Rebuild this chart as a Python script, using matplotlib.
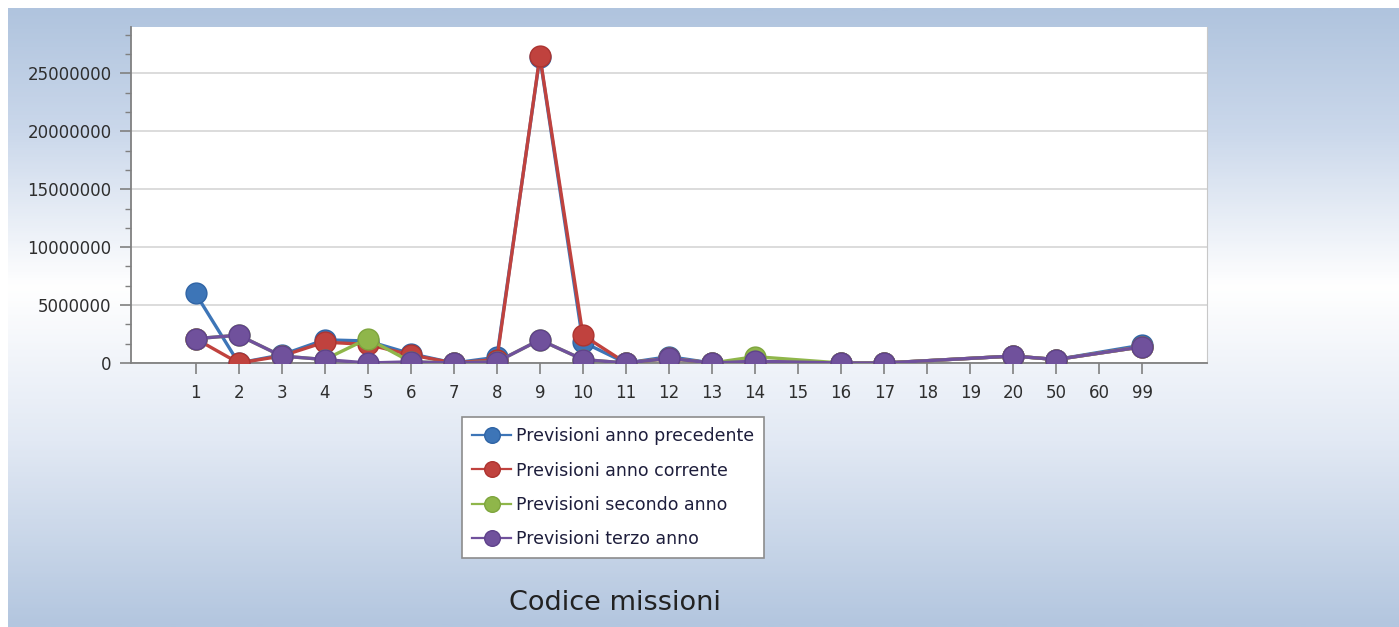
import matplotlib
matplotlib.use('Agg')
import matplotlib.pyplot as plt
import numpy as np
from matplotlib.ticker import MultipleLocator, FuncFormatter
from matplotlib.colors import LinearSegmentedColormap

# codici missione (asse x)
codici = ['1', '2', '3', '4', '5', '6', '7', '8', '9', '10', '11', '12', '13',
          '14', '15', '16', '17', '18', '19', '20', '50', '60', '99']

# valori (None = punto vuoto)
anno_precedente = [6000000, 0, 700000, 2000000, 1900000, 800000, 0, 500000, 26400000,
                   1800000, 0, 550000, 0, 100000, None, 0, 0, None, None, 600000,
                   300000, None, 1550000]
anno_corrente = [2100000, 0, 600000, 1800000, 1600000, 700000, 0, 300000, 26500000,
                 2400000, 0, 400000, 0, 100000, None, 0, 0, None, None, 600000,
                 300000, None, 1400000]
secondo_anno = [2100000, 2400000, 600000, 300000, 2100000, 100000, 0, 100000, 2000000,
                300000, 0, 400000, 0, 550000, None, 0, 0, None, None, 600000,
                300000, None, 1400000]
terzo_anno = [2100000, 2400000, 600000, 300000, 0, 100000, 0, 100000, 2000000,
              300000, 0, 400000, 0, 150000, None, 0, 0, None, None, 600000,
              300000, None, 1400000]

serie = [
    ('Previsioni anno precedente', anno_precedente, '#3d75b7', '#2f64a5'),
    ('Previsioni anno corrente', anno_corrente, '#c0423e', '#ad3430'),
    ('Previsioni secondo anno', secondo_anno, '#8fb64a', '#7ea53d'),
    ('Previsioni terzo anno', terzo_anno, '#70519c', '#5f428b'),
]

W, H = 1399, 627
fig = plt.figure(figsize=(W / 100, H / 100), dpi=100)
fig.patch.set_facecolor('white')

# sfondo sfumato
bg = fig.add_axes([8 / W, 0, 1 - 8 / W, 1 - 8 / H])
bg.set_axis_off()
cmap = LinearSegmentedColormap.from_list(
    'sfondo', [(0, '#b0c4de'), (0.2, '#cbd8eb'), (0.45, '#ffffff'), (0.7, '#e2e9f4'),
               (1.0, '#b3c6df')])
grad = np.linspace(0, 1, 300).reshape(-1, 1)
bg.imshow(grad, aspect='auto', cmap=cmap, extent=[0, 1, 0, 1], origin='upper')
bg.set_xlim(0, 1)
bg.set_ylim(0, 1)

ax = fig.add_axes([131 / W, 1 - 363 / H, (1207 - 131) / W, (363 - 27) / H])
ax.set_facecolor('white')

x = np.arange(len(codici))
for nome, valori, colore, bordo in serie:
    xs = [i for i, v in zip(x, valori) if v is not None]
    ys = [v for v in valori if v is not None]
    ax.plot(xs, ys, color=colore, lw=2.4, marker='o', ms=15,
            markerfacecolor=colore, markeredgecolor=bordo, markeredgewidth=1,
            label=nome, zorder=3)

ax.set_xlim(-1.5, len(codici) + 0.5)
ax.set_ylim(0, 29000000)
ax.set_xticks(x)
ax.set_xticklabels(codici)
ax.yaxis.set_major_locator(MultipleLocator(5000000))
ax.yaxis.set_minor_locator(MultipleLocator(5000000 / 3))
ax.yaxis.set_major_formatter(FuncFormatter(lambda v, p: '%d' % v))
ax.grid(axis='y', color='#dcdcdc', lw=1.4, zorder=0)
ax.set_axisbelow(True)

for s in ['left', 'bottom']:
    ax.spines[s].set_color('#808080')
    ax.spines[s].set_linewidth(1.3)
ax.spines['right'].set_color('#c8c8c8')
ax.spines['top'].set_visible(False)

ax.tick_params(axis='both', which='major', colors='#808080', labelcolor='#2e2e2e',
               labelsize=12, length=8, width=1.2)
ax.tick_params(axis='y', which='minor', colors='#808080', length=4, width=1)
ax.tick_params(axis='x', pad=7)
ax.tick_params(axis='y', pad=6)

leg = fig.legend(loc='upper left', bbox_to_anchor=(462 / W, 1 - 417 / H),
                 borderaxespad=0, fontsize=12.5, frameon=True, fancybox=False,
                 framealpha=1, markerscale=0.75, handlelength=2.2, labelspacing=0.93,
                 borderpad=0.6, handletextpad=0.3)
leg.get_frame().set_edgecolor('#8c8c8c')
leg.get_frame().set_linewidth(1.2)
for t in leg.get_texts():
    t.set_color('#1e1e3c')
for h in leg.legend_handles:
    h.set_linewidth(1.6)

fig.text(615 / W, 1 - 603 / H, 'Codice missioni', fontsize=19.5, color='#222222',
         ha='center', va='center')

fig.savefig('out.png', dpi=100)
